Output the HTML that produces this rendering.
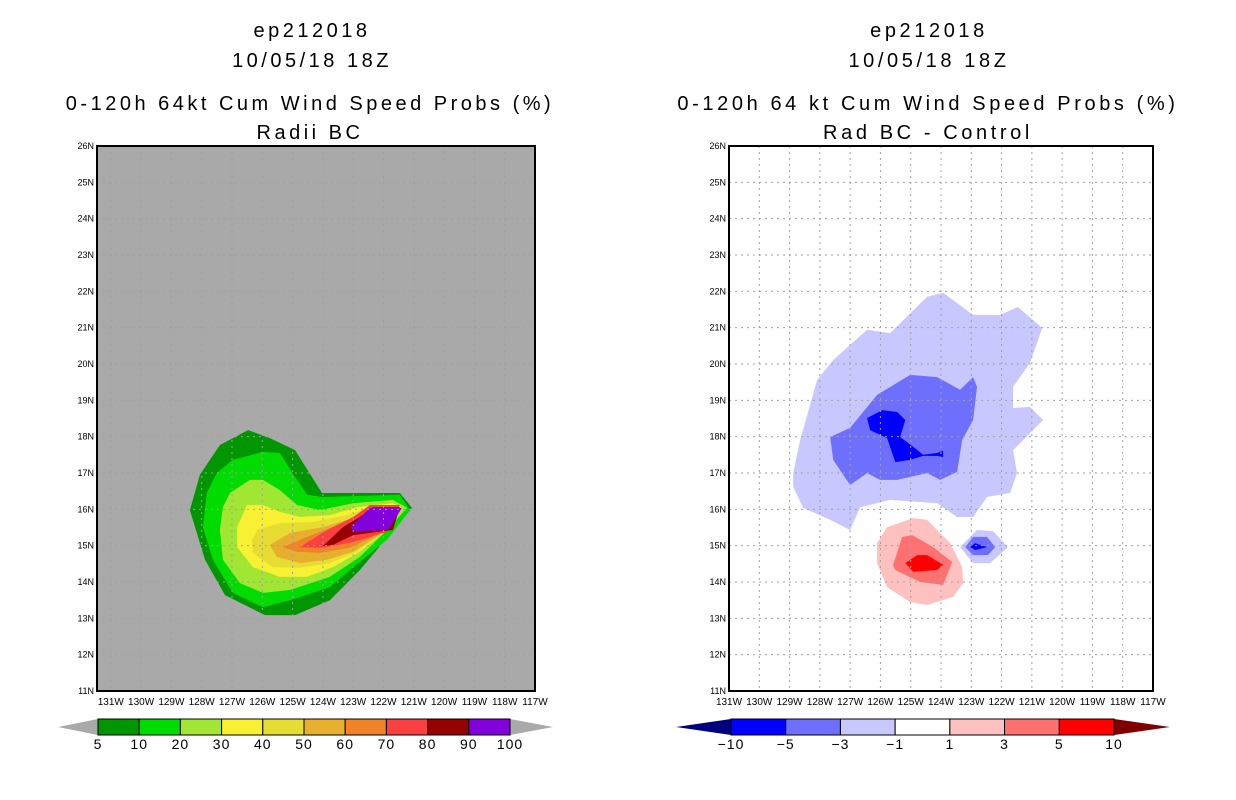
<!DOCTYPE html>
<html><head><meta charset="utf-8"><style>
html,body{margin:0;padding:0;background:#fff;}
svg{display:block;}
text{font-family:"Liberation Sans",sans-serif;fill:#000;}
</style></head><body>
<svg id="s" width="1236" height="800" xmlns="http://www.w3.org/2000/svg">
<g font-size="20" text-anchor="middle" letter-spacing="3.5">
<text x="312" y="37">ep212018</text><text x="312" y="67">10/05/18 18Z</text>
<text x="310" y="110">0-120h 64kt Cum Wind Speed Probs (%)</text><text x="310" y="139">Radii BC</text></g>
<g font-size="20" text-anchor="middle" letter-spacing="3.6">
<text x="929" y="37">ep212018</text><text x="929" y="67">10/05/18 18Z</text>
<text x="928" y="110">0-120h 64 kt Cum Wind Speed Probs (%)</text><text x="928" y="139">Rad BC - Control</text></g>
<g id="L"></g>
<g id="R"></g>
<g id="LC"></g>
<g id="RC"></g>
</svg>
<script>
// Left panel: cumulative probability contours, polygons as [degW, degN]
const leftLevels=[5,10,20,30,40,50,60,70,80,90];
const leftColors=['#009600','#00dc00','#a0e632','#f8f032','#e6dc32','#e6af2d','#f08228','#fa4040','#960000','#8200dc'];
const leftP5=[[126.47,18.18],[125.75,17.96],[124.92,17.63],[124.03,16.45],[121.46,16.45],[121.06,16.04],[122.78,14.33],[123.77,13.5],[124.92,13.09],[125.91,13.09],[127.23,13.64],[127.89,14.61],[128.39,15.98],[128.06,16.95],[127.4,17.77]];
const leftP10=[[126.97,17.36],[125.98,17.58],[125.42,17.55],[124.92,16.89],[124.52,16.4],[124.0,16.34],[121.46,16.4],[121.13,15.98],[121.88,15.16],[123.0,14.41],[123.77,13.86],[125.09,13.5],[125.98,13.31],[126.97,13.7],[127.63,14.61],[127.96,15.51],[127.83,16.45],[127.5,17.0]];
const leftP20=[[127.07,16.45],[126.41,16.81],[125.98,16.81],[125.42,16.53],[124.85,16.12],[124.1,15.98],[123.0,16.17],[121.69,16.26],[121.22,16.04],[121.88,15.43],[122.78,14.69],[123.77,14.14],[125.09,13.78],[125.98,13.7],[126.74,13.97],[127.3,14.61],[127.4,15.43],[127.3,16.06]];
const leftP30=[[126.5,16.12],[125.98,16.12],[125.42,15.93],[124.76,15.79],[123.77,15.84],[122.87,16.06],[121.69,16.17],[121.36,16.04],[122.02,15.35],[122.78,14.83],[123.67,14.41],[124.52,14.14],[125.42,14.14],[126.31,14.41],[126.83,14.96],[126.83,15.51]];
const leftP40=[[126.17,15.43],[125.42,15.62],[124.33,15.65],[123.2,15.84],[122.12,16.12],[121.46,16.04],[122.12,15.29],[122.87,14.83],[123.77,14.52],[124.76,14.39],[125.65,14.41],[126.31,14.8],[126.34,15.16]];
const leftP50=[[125.75,15.02],[125.09,15.35],[124.0,15.51],[122.87,15.79],[121.88,16.12],[121.55,15.98],[122.12,15.29],[123.0,14.83],[123.86,14.61],[124.76,14.52],[125.52,14.69]];
const leftP60=[[125.32,14.96],[124.52,15.24],[123.67,15.51],[122.78,15.84],[121.88,16.12],[121.69,15.98],[122.21,15.29],[123.11,14.94],[124.1,14.8],[124.85,14.83]];
const leftP70=[[124.76,14.96],[123.86,15.43],[123.0,15.79],[122.45,16.12],[121.46,16.12],[121.88,15.38],[123.0,15.1],[124.0,14.94]];
const leftP80=[[124.0,14.99],[123.34,15.51],[122.78,15.79],[122.35,16.06],[121.46,16.06],[121.69,15.43],[123.0,15.29],[123.67,15.02]];
const leftP90=[[123.11,15.49],[122.45,16.04],[121.39,16.04],[121.85,15.43],[122.94,15.4]];
// Right panel: difference contours
const rightLevels=[-10,-5,-3,-1,1,3,5,10];
const rightColors=['#0000ff','#6e6eff','#c8c8ff','#ffffff','#ffc0c0','#ff7070','#ff0000'];
const rightM1=[[128.88,17.0],[128.65,17.91],[128.09,19.56],[127.56,20.11],[126.44,20.94],[125.68,20.85],[124.46,21.85],[123.93,21.96],[122.94,21.35],[122.05,21.35],[121.46,21.57],[120.66,20.99],[121.06,20.03],[121.62,19.37],[121.62,18.79],[121.06,18.82],[120.63,18.46],[121.62,17.63],[121.49,17.0],[121.72,16.45],[122.48,16.34],[122.94,15.79],[123.47,15.79],[124.13,16.17],[125.68,16.26],[126.67,16.06],[127.0,15.43],[127.66,15.71],[128.55,16.04],[128.88,16.62]];
const rightM3=[[127.66,17.99],[127.0,18.24],[126.11,19.15],[125.02,19.7],[124.13,19.64],[123.37,19.29],[122.94,19.64],[122.81,19.37],[122.94,18.46],[123.3,17.91],[123.47,17.03],[124.03,16.81],[124.46,17.0],[125.45,16.81],[126.01,16.81],[126.44,17.0],[127.0,16.67],[127.56,17.36]];
const rightM5=[[126.44,18.51],[125.94,18.73],[125.45,18.68],[125.18,18.46],[125.35,17.99],[124.92,17.72],[124.59,17.5],[124.13,17.55],[123.93,17.61],[123.93,17.44],[124.13,17.47],[124.59,17.47],[125.02,17.36],[125.51,17.3],[125.78,17.96],[126.34,18.18]];
const rightB1=[[123.37,14.96],[122.81,15.43],[122.28,15.4],[121.79,14.96],[122.38,14.52],[122.94,14.52]];
const rightB3=[[123.2,14.96],[122.94,15.24],[122.48,15.24],[122.21,14.96],[122.45,14.74],[122.94,14.74]];
const rightB5=[[123.04,14.96],[122.87,15.07],[122.48,14.96],[122.87,14.88]];
const rightR1=[[126.11,15.07],[125.78,15.51],[124.92,15.76],[124.46,15.71],[123.7,15.07],[123.3,14.41],[123.27,13.97],[123.6,13.59],[124.46,13.37],[125.02,13.45],[125.78,13.86],[126.11,14.52]];
const rightR3=[[125.58,14.47],[125.28,15.24],[124.95,15.29],[124.26,14.96],[123.63,14.55],[123.93,13.92],[124.69,14.0],[125.51,14.33]];
const rightR5=[[125.18,14.52],[124.79,14.74],[124.46,14.74],[123.93,14.47],[124.13,14.33],[124.92,14.28]];
const latTicks=[11,12,13,14,15,16,17,18,19,20,21,22,23,24,25,26];
const lonTicks=[131,130,129,128,127,126,125,124,123,122,121,120,119,118,117];

const NS='http://www.w3.org/2000/svg';
function mk(p,tag,at){const e=document.createElementNS(NS,tag);for(const k in at)e.setAttribute(k,at[k]);p.appendChild(e);return e;}
function panel(g,x0,x1,w0,y0,y1,bg,polys,cols,names){
  const xs=w=>x1-(w-117)*(x1-x0)/(w0-117);
  const ys=l=>y1-(l-11)*(y1-y0)/15;
  const bgr=mk(g,'rect',{x:x0,y:y0,width:x1-x0,height:y1-y0,fill:bg});
  
  
  polys.forEach((p,i)=>{
    const el=mk(g,'polygon',{points:p.map(q=>xs(q[0]).toFixed(1)+','+ys(q[1]).toFixed(1)).join(' '),fill:cols[i]});
    
    
  });
  latTicks.forEach(l=>{
    const y=ys(l);
    if(l>11&&l<26){const gl=mk(g,'line',{x1:x0,x2:x1,y1:y,y2:y,stroke:'#a0a0a0','stroke-dasharray':'2,4','stroke-width':1});
    
    }
    const t=mk(g,'text',{x:x0-3,y:y+3,'font-size':9,'text-anchor':'end'});t.textContent=l+'N';
    
    
  });
  lonTicks.forEach(w=>{
    const x=xs(w);
    if(w<w0&&w>117){const gl=mk(g,'line',{x1:x,x2:x,y1:y0,y2:y1,stroke:'#a0a0a0','stroke-dasharray':'2,4','stroke-width':1});
    
    }
    const t=mk(g,'text',{x:x,y:y1+14,'font-size':10,'text-anchor':'middle'});t.textContent=w+'W';
    
    
  });
  const fr=mk(g,'rect',{x:x0,y:y0,width:x1-x0,height:y1-y0,fill:'none',stroke:'#000','stroke-width':2});
  
  
}
panel(document.getElementById('L'),97,535,131.455,146,691,'#a9a9a9',
 [leftP5,leftP10,leftP20,leftP30,leftP40,leftP50,leftP60,leftP70,leftP80,leftP90],leftColors,
 leftLevels.map(v=>'prob-contour-'+v));
panel(document.getElementById('R'),729,1153,131,146,691,'#ffffff',
 [rightM1,rightM3,rightM5,rightB1,rightB3,rightB5,rightR1,rightR3,rightR5],
 ['#c8c8ff','#6e6eff','#0000ff','#c8c8ff','#6e6eff','#0000ff','#ffc0c0','#ff7070','#ff0000'],
 ['diff-contour-m1','diff-contour-m3','diff-contour-m5','diff-blob-m1','diff-blob-m3','diff-blob-m5','diff-contour-p1','diff-contour-p3','diff-contour-p5']);

function colorbar(g,x0,x1,tl,tr,y0,y1,cols,labels,lc,rc){
  const n=cols.length,w=(x1-x0)/n,ym=(y0+y1)/2;
  const a=mk(g,'polygon',{points:`${tl},${ym} ${x0},${y0} ${x0},${y1}`,fill:lc});
  
  
  const b=mk(g,'polygon',{points:`${tr},${ym} ${x1},${y0} ${x1},${y1}`,fill:rc});
  
  
  cols.forEach((c,i)=>{
    const r=mk(g,'rect',{x:x0+i*w,y:y0,width:w,height:y1-y0,fill:c,stroke:'#000','stroke-width':1});
    
    
  });
  labels.forEach((l,i)=>{
    const t=mk(g,'text',{x:x0+i*w,y:y1+14,'font-size':14,'text-anchor':'middle','letter-spacing':1});t.textContent=l;
    
    
  });
}
colorbar(document.getElementById('LC'),98,510,58,553,719,735,leftColors,leftLevels.concat([100]),'#a9a9a9','#a9a9a9');
colorbar(document.getElementById('RC'),731,1114,676,1170,719,735,rightColors,rightLevels.map(v=>v<0?'\u2212'+(-v):''+v),'#000080','#800000');
</script>
</body></html>
